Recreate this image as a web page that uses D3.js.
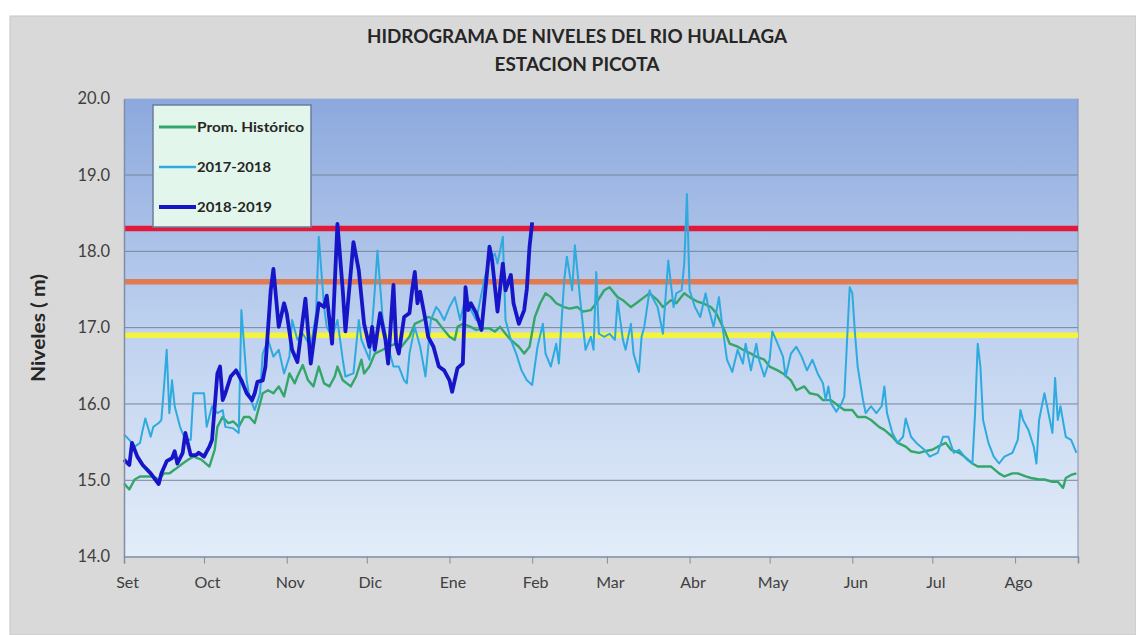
<!DOCTYPE html>
<html>
<head>
<meta charset="utf-8">
<script src="https://cdn.jsdelivr.net/npm/d3@7"></script>
<style>
  body { margin: 0; background: #fff; }
  svg { display: block; }
</style>
</head>
<body>
<script>
// ----------------------------------------------------------- //
// data (day = days since 1 Sep, value = level in m)

const monthLabels = ["Set", "Oct", "Nov", "Dic", "Ene", "Feb", "Mar", "Abr", "May", "Jun", "Jul", "Ago"];
const yTickValues = [14, 15, 16, 17, 18, 19, 20];
const seriesNames = ["Prom. Histórico", "2017-2018", "2018-2019"];

// alert levels (yellow, orange, red)
const umbralValues = [16.9, 17.6, 18.3];

const promHistorico = [
  [0,14.96],[2,14.88],[4,15.01],[6,15.05],[8,15.05],[11,15.05],[13,15.01],[15,15.09],[17,15.09],[19,15.14],
  [22,15.22],[24,15.27],[26,15.31],[29,15.27],[32,15.18],[34,15.40],[35,15.70],[37,15.83],[39,15.75],[41,15.77],
  [43,15.70],[45,15.83],[47,15.83],[49,15.75],[50,15.88],[52,16.14],[54,16.18],[56,16.14],[58,16.23],[60,16.10],
  [62,16.40],[64,16.27],[65,16.36],[67,16.51],[69,16.31],[71,16.23],[73,16.49],[75,16.27],[77,16.23],[79,16.36],
  [80,16.49],[82,16.31],[85,16.23],[87,16.36],[89,16.58],[90,16.40],[92,16.49],[94,16.66],[97,16.71],[99,16.75],
  [102,16.79],[104,16.75],[107,16.88],[109,17.05],[112,17.10],[114,17.14],[117,17.10],[119,17.01],[122,16.88],[124,16.84],
  [125,17.01],[127,17.05],[130,17.01],[132,16.97],[135,16.99],[137,16.99],[139,16.95],[141,17.01],[143,16.92],[145,16.84],
  [148,16.75],[150,16.66],[152,16.75],[154,17.14],[156,17.32],[158,17.45],[160,17.40],[162,17.32],[165,17.27],[167,17.25],
  [170,17.27],[172,17.21],[175,17.23],[177,17.32],[180,17.49],[182,17.53],[185,17.40],[187,17.36],[190,17.27],[192,17.32],
  [195,17.40],[197,17.45],[200,17.36],[202,17.27],[205,17.36],[207,17.32],[210,17.45],[212,17.40],[215,17.34],[217,17.32],
  [220,17.27],[222,17.19],[225,16.97],[227,16.79],[230,16.75],[232,16.71],[235,16.66],[237,16.62],[240,16.58],[242,16.49],
  [245,16.44],[247,16.40],[250,16.31],[252,16.18],[255,16.23],[257,16.14],[260,16.12],[262,16.05],[265,16.05],[268,15.97],
  [270,15.92],[273,15.92],[275,15.83],[278,15.83],[280,15.79],[283,15.70],[285,15.66],[288,15.57],[290,15.49],[293,15.44],
  [295,15.38],[298,15.36],[300,15.38],[303,15.40],[305,15.44],[308,15.49],[310,15.40],[313,15.36],[315,15.31],[318,15.22],
  [320,15.18],[323,15.18],[325,15.18],[328,15.09],[330,15.05],[333,15.09],[335,15.09],[338,15.05],[340,15.03],[343,15.01],
  [345,15.01],[348,14.98],[350,14.98],[352,14.90],[353,15.03],[355,15.07],[357,15.09]
];

const serie2017 = [
  [0,15.60],[2,15.53],[4,15.44],[6,15.49],[7,15.66],[8,15.81],[10,15.57],[11,15.70],[13,15.75],[14,15.79],
  [15,16.23],[16,16.71],[17,15.88],[18,16.31],[19,15.97],[21,15.70],[23,15.53],[25,15.53],[26,16.14],[28,16.14],
  [30,16.14],[31,15.70],[33,15.97],[35,15.88],[37,15.92],[38,15.70],[41,15.68],[43,15.62],[44,17.23],[46,16.31],
  [47,16.10],[49,15.92],[51,16.14],[52,16.66],[54,16.84],[56,16.62],[58,16.71],[60,16.40],[62,16.62],[63,17.10],
  [65,16.84],[67,16.92],[70,16.75],[72,17.19],[73,18.19],[75,17.27],[76,17.01],[78,16.88],[80,17.10],[82,16.58],
  [83,16.36],[86,16.40],[88,17.10],[89,16.84],[92,16.58],[94,17.49],[95,18.01],[97,17.10],[99,16.75],[101,16.49],
  [103,16.49],[105,16.31],[106,16.27],[107,16.66],[109,17.01],[111,16.75],[113,16.36],[115,17.10],[117,17.27],[118,17.23],
  [120,17.10],[122,17.27],[124,17.40],[126,17.10],[128,17.40],[130,17.23],[132,17.10],[133,17.27],[135,17.62],[137,17.88],
  [139,17.97],[140,17.84],[142,18.19],[143,17.10],[145,16.84],[147,16.66],[149,16.44],[151,16.31],[153,16.25],[155,16.75],
  [157,17.05],[158,16.66],[160,16.49],[162,16.79],[163,16.53],[165,17.62],[166,17.93],[168,17.49],[169,18.08],[171,17.36],
  [173,16.71],[175,16.88],[176,16.71],[177,17.73],[178,16.92],[180,16.88],[182,16.92],[184,16.84],[185,17.36],[187,16.84],
  [188,16.71],[190,17.05],[191,16.66],[193,16.42],[194,16.88],[195,17.01],[197,17.49],[198,17.40],[200,17.27],[202,16.92],
  [204,17.88],[206,17.27],[207,17.45],[209,17.49],[210,17.84],[211,18.75],[212,17.49],[214,17.27],[216,17.14],[218,17.45],
  [219,17.27],[221,17.01],[223,17.40],[224,17.10],[226,16.58],[228,16.42],[230,16.71],[232,16.53],[233,16.79],[235,16.44],
  [237,16.79],[238,16.58],[240,16.36],[242,16.58],[243,16.95],[245,16.79],[247,16.62],[248,16.36],[250,16.66],[252,16.75],
  [254,16.62],[256,16.44],[258,16.58],[260,16.40],[262,16.27],[263,16.05],[264,16.23],[265,16.01],[267,15.90],[269,16.01],
  [270,16.10],[272,17.53],[273,17.45],[274,16.92],[275,16.49],[277,16.05],[278,15.88],[280,15.97],[282,15.88],[284,15.97],
  [285,16.23],[286,15.88],[288,15.62],[290,15.49],[292,15.57],[293,15.81],[295,15.57],[297,15.49],[300,15.40],[302,15.31],
  [305,15.36],[307,15.57],[309,15.57],[311,15.36],[313,15.40],[316,15.27],[318,15.22],[319,15.88],[320,16.79],[321,16.49],
  [322,15.79],[324,15.49],[326,15.31],[328,15.22],[330,15.31],[333,15.36],[335,15.53],[336,15.92],[337,15.79],[339,15.66],
  [341,15.44],[342,15.22],[343,15.79],[345,16.14],[346,15.97],[348,15.62],[349,16.34],[350,15.79],[351,15.97],[353,15.57],
  [355,15.53],[357,15.36]
];

const serie2018 = [
  [0,15.27],[2,15.20],[3,15.49],[5,15.31],[7,15.20],[10,15.09],[13,14.95],[14,15.09],[16,15.25],[18,15.29],
  [19,15.38],[20,15.22],[22,15.36],[23,15.62],[25,15.33],[27,15.33],[28,15.36],[30,15.31],[32,15.44],[33,15.53],
  [35,16.40],[36,16.49],[37,16.05],[38,16.14],[40,16.36],[42,16.44],[44,16.31],[46,16.14],[48,16.05],[49,16.14],
  [50,16.29],[52,16.31],[53,16.49],[55,17.49],[56,17.77],[58,17.01],[60,17.32],[61,17.19],[63,16.71],[65,16.55],
  [68,17.38],[70,16.53],[73,17.32],[75,17.27],[76,17.42],[78,16.79],[80,18.36],[82,17.49],[83,16.95],[86,18.12],
  [88,17.75],[90,17.05],[92,16.75],[93,17.01],[94,16.71],[96,17.19],[98,16.84],[99,16.53],[101,17.56],[102,16.79],
  [103,16.66],[105,17.14],[107,17.19],[108,17.49],[109,17.73],[110,17.32],[111,17.47],[113,17.10],[114,16.88],[116,16.75],
  [118,16.49],[120,16.44],[122,16.31],[123,16.16],[125,16.47],[127,16.53],[128,17.53],[129,17.23],[130,17.32],[132,17.19],
  [134,16.97],[137,18.06],[138,17.88],[140,17.21],[142,17.84],[143,17.49],[145,17.69],[146,17.32],[148,17.05],[150,17.23],
  [151,17.51],[152,18.06],[153,18.38]
];

// ----------------------------------------------------------- //

var width = 1136;
var height = 635;

// plot area
var plotLeft = 124, plotRight = 1078, plotTop = 98.7, plotBottom = 556.6;

var seriesColors = ["#35a66a", "#2eaade", "#1616c8"];
var seriesWidths = [2.4, 2.0, 3.8];
var umbralColors = ["#f4f43c", "#e07b52", "#e11a3a"];

var startDate = new Date(2018, 8, 1);
var endDate = new Date(2019, 7, 24, 14);
function toDate(day) { return d3.timeDay.offset(startDate, day); }

var xScale = d3.scaleTime()
  .domain([startDate, endDate])
  .range([plotLeft, plotRight]);

var yScale = d3.scaleLinear()
  .domain([14, 20])
  .range([plotBottom, plotTop]);

var svg = d3.select("body").append("svg")
  .attr("width", width)
  .attr("height", height);

// chart area background
svg.append("rect")
  .attr("x", 10).attr("y", 16)
  .attr("width", width - 10).attr("height", height - 16)
  .attr("fill", "#d9d9d9")
  .attr("stroke", "#c6c6c6");

// plot area gradient
var grad = svg.append("defs").append("linearGradient")
  .attr("id", "bg")
  .attr("x1", 0).attr("y1", 0).attr("x2", 0).attr("y2", 1);
grad.append("stop").attr("offset", "0%").attr("stop-color", "#8ca8dd");
grad.append("stop").attr("offset", "50%").attr("stop-color", "#bed1ef");
grad.append("stop").attr("offset", "100%").attr("stop-color", "#e3edf9");

svg.append("rect")
  .attr("x", plotLeft).attr("y", plotTop)
  .attr("width", plotRight - plotLeft).attr("height", plotBottom - plotTop)
  .attr("fill", "url(#bg)");

// horizontal gridlines
svg.append("g").selectAll("line")
  .data(yTickValues.filter(function(v) { return v > 14 && v < 20; }))
  .enter().append("line")
  .attr("x1", plotLeft).attr("x2", plotRight)
  .attr("y1", function(d) { return yScale(d); })
  .attr("y2", function(d) { return yScale(d); })
  .attr("stroke", "#76859b")
  .attr("stroke-width", 1);

// right border
svg.append("line")
  .attr("x1", plotRight).attr("x2", plotRight)
  .attr("y1", plotTop).attr("y2", plotBottom)
  .attr("stroke", "#8092b0");

// alert levels
svg.append("g").selectAll("line")
  .data(umbralValues)
  .enter().append("line")
  .attr("x1", plotLeft).attr("x2", plotRight)
  .attr("y1", function(d) { return yScale(d); })
  .attr("y2", function(d) { return yScale(d); })
  .attr("stroke", function(d, i) { return umbralColors[i]; })
  .attr("stroke-width", 5.5);

// series lines
var line = d3.line()
  .x(function(d) { return xScale(toDate(d[0])); })
  .y(function(d) { return yScale(d[1]); });

[promHistorico, serie2017, serie2018].forEach(function(serie, i) {
  svg.append("path")
    .datum(serie)
    .attr("d", line)
    .attr("fill", "none")
    .attr("stroke", seriesColors[i])
    .attr("stroke-width", seriesWidths[i])
    .attr("stroke-linejoin", "round");
});

// ----------------------------------------------------------- //
// axes

var yAxis = svg.append("g")
  .attr("transform", "translate(" + plotLeft + ",0)")
  .call(d3.axisLeft(yScale).tickValues(yTickValues).tickFormat(d3.format(".1f")).tickSize(0).tickPadding(14));
yAxis.select(".domain").attr("stroke", "#7f8ea6").attr("stroke-width", 1.5);
yAxis.selectAll("text")
  .attr("fill", "#404040")
  .style("font-family", "Lato, 'Open Sans', sans-serif")
  .style("font-size", "16.5px");

var monthTicks = d3.timeMonth.range(startDate, endDate);
var xAxis = svg.append("g")
  .attr("transform", "translate(0," + plotBottom + ")")
  .call(d3.axisBottom(xScale)
    .tickValues(monthTicks)
    .tickFormat(function(d, i) { return monthLabels[i]; })
    .tickSize(7).tickSizeOuter(7).tickPadding(13));
xAxis.select(".domain").attr("stroke", "#7f8ea6").attr("stroke-width", 1.5);
xAxis.selectAll("line").attr("stroke", "#7f8ea6");
xAxis.selectAll("text")
  .attr("fill", "#404040")
  .attr("dx", 3)
  .style("font-family", "Lato, 'Open Sans', sans-serif")
  .style("font-size", "16px");

// titles
var titleFont = "'Liberation Sans Narrow', Lato, sans-serif";
svg.append("text")
  .attr("x", 577).attr("y", 43)
  .attr("text-anchor", "middle")
  .attr("textLength", 420).attr("lengthAdjust", "spacingAndGlyphs")
  .style("font-family", titleFont).style("font-weight", "bold").style("font-size", "19px")
  .attr("fill", "#262626")
  .text("HIDROGRAMA DE NIVELES DEL RIO HUALLAGA");

svg.append("text")
  .attr("x", 577).attr("y", 71)
  .attr("text-anchor", "middle")
  .attr("textLength", 165).attr("lengthAdjust", "spacingAndGlyphs")
  .style("font-family", titleFont).style("font-weight", "bold").style("font-size", "19px")
  .attr("fill", "#262626")
  .text("ESTACION PICOTA");

svg.append("text")
  .attr("transform", "translate(45,328) rotate(-90)")
  .attr("text-anchor", "middle")
  .attr("textLength", 108).attr("lengthAdjust", "spacingAndGlyphs")
  .style("font-family", titleFont).style("font-weight", "bold").style("font-size", "19px")
  .attr("fill", "#262626")
  .text("Niveles ( m)");

// ----------------------------------------------------------- //
// legend

var legend = svg.append("g");
legend.append("rect")
  .attr("x", 153).attr("y", 105)
  .attr("width", 158).attr("height", 122)
  .attr("fill", "#e3f6ec")
  .attr("stroke", "#6b7d9c")
  .attr("stroke-width", 1.5);

var legendY = [127, 167, 207];
var legendTextLen = [107, 74, 75];
seriesNames.forEach(function(name, i) {
  legend.append("line")
    .attr("x1", 159).attr("x2", 196)
    .attr("y1", legendY[i]).attr("y2", legendY[i])
    .attr("stroke", seriesColors[i])
    .attr("stroke-width", seriesWidths[i] + 0.4);
  legend.append("text")
    .attr("x", 197).attr("y", legendY[i] + 4.5)
    .attr("textLength", legendTextLen[i]).attr("lengthAdjust", "spacingAndGlyphs")
    .style("font-family", titleFont).style("font-weight", "bold").style("font-size", "13px")
    .attr("fill", "#262626")
    .text(name);
});
</script>
</body>
</html>
